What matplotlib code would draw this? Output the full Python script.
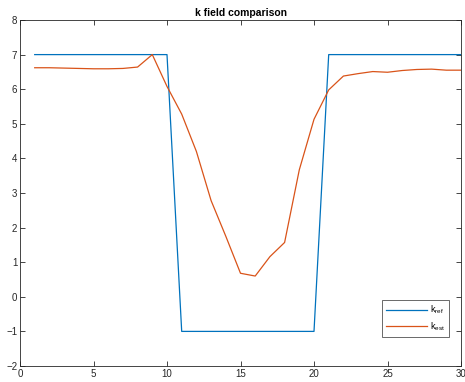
import matplotlib
matplotlib.use("Agg")
import matplotlib.pyplot as plt

x = list(range(1, 31))
k_ref = [7]*10 + [-1]*10 + [7]*10
k_est = [6.62, 6.62, 6.61, 6.60, 6.59, 6.59, 6.60, 6.64, 7.00, 6.08,
         5.28, 4.20, 2.78, 1.75, 0.68, 0.60, 1.16, 1.57, 3.67, 5.13,
         5.98, 6.38, 6.45, 6.51, 6.49, 6.54, 6.57, 6.58, 6.55, 6.55]
xticks = [0, 5, 10, 15, 20, 25, 30]
yticks = [-2, -1, 0, 1, 2, 3, 4, 5, 6, 7, 8]

plt.rcParams['font.family'] = ['Liberation Sans', 'DejaVu Sans']
fig = plt.figure(figsize=(4.65, 3.82), dpi=100)
ax = fig.add_axes([20/465, 1-366/382, 441/465, 346/382])
ax.plot(x, k_ref, color='#0072BD', lw=0.9, label='k$_{\\mathregular{ref}}$')
ax.plot(x, k_est, color='#D95319', lw=0.9, label='k$_{\\mathregular{est}}$')
ax.set_xlim(0, 30)
ax.set_ylim(-2, 8)
ax.set_xticks(xticks)
ax.set_yticks(yticks)
ax.tick_params(direction='in', length=3.5, width=0.6, labelsize=7, top=True, right=True,
               colors='#262626', pad=2)
for s in ax.spines.values():
    s.set_linewidth(0.6)
    s.set_color('#262626')
ax.set_title('k field comparison', fontsize=7.5, fontweight='bold', pad=3)
leg = ax.legend(loc='lower right', bbox_to_anchor=(0.982, 0.072), fontsize=6.5,
                frameon=True, fancybox=False, edgecolor='#262626', handlelength=4.6,
                borderpad=0.4, labelspacing=0.45, handletextpad=0.3)
leg.get_frame().set_linewidth(0.6)
fig.savefig('out.png', dpi=100)
